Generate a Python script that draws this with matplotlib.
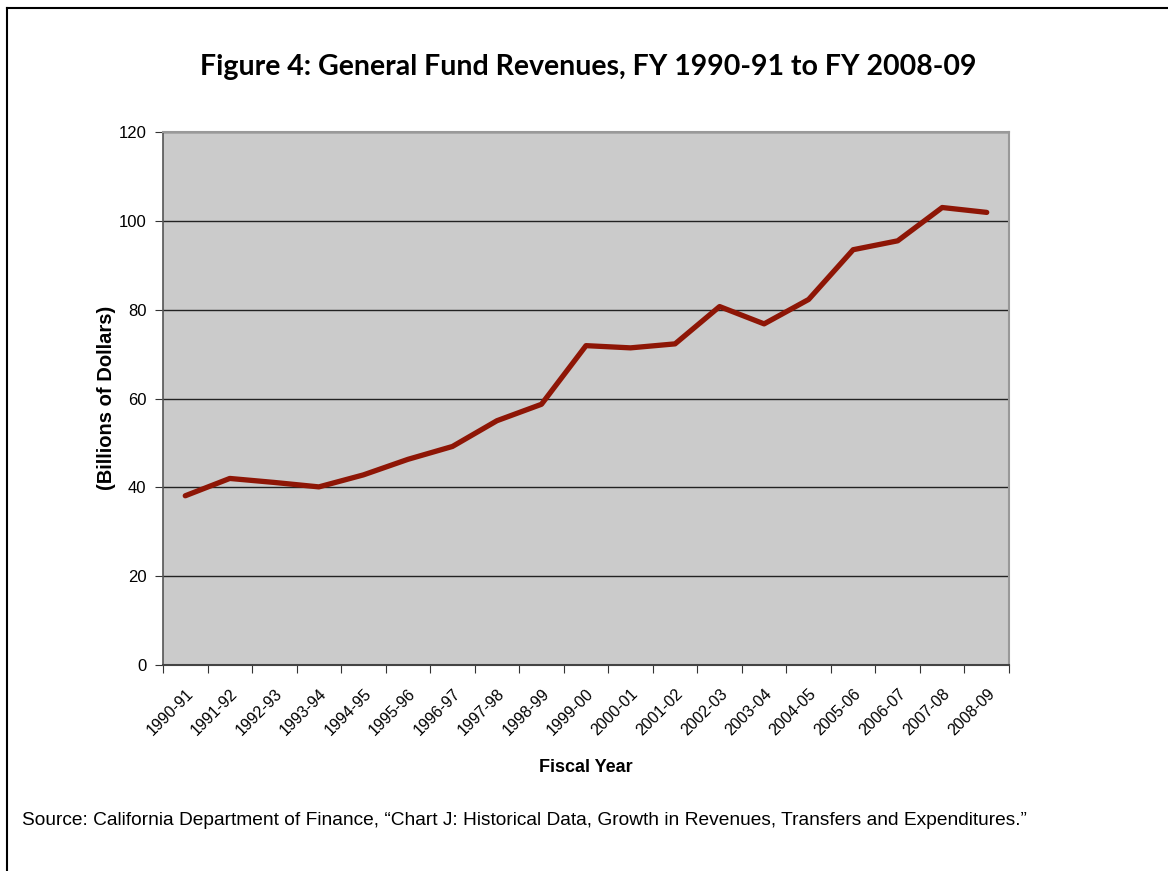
import matplotlib.pyplot as plt
import matplotlib.transforms as mtransforms
from matplotlib import font_manager
from matplotlib.lines import Line2D

years = ["1990-91", "1991-92", "1992-93", "1993-94", "1994-95", "1995-96",
         "1996-97", "1997-98", "1998-99", "1999-00", "2000-01", "2001-02",
         "2002-03", "2003-04", "2004-05", "2005-06", "2006-07", "2007-08",
         "2008-09"]
revenues = [38.1, 42.0, 41.1, 40.1, 42.8, 46.3, 49.2, 55.0, 58.7, 71.9,
            71.4, 72.3, 80.7, 76.8, 82.3, 93.5, 95.5, 103.0, 101.9]
y_ticks = [0, 20, 40, 60, 80, 100, 120]

names = {f.name for f in font_manager.fontManager.ttflist}
narrow = "Liberation Sans Narrow" if "Liberation Sans Narrow" in names else "Liberation Sans"

fig = plt.figure(figsize=(11.68, 8.71), dpi=100)
ax = fig.add_axes([163 / 1168, 1 - 665 / 871, 846 / 1168, 533 / 871])

x = list(range(len(years)))
ax.set_facecolor("#cbcbcb")
ax.plot(x, revenues, color="#8e1606", lw=3.8, solid_capstyle="round", zorder=3)

ax.set_xlim(-0.5, len(years) - 0.5)
ax.set_ylim(0, 120)
ax.set_yticks(y_ticks)
ax.set_yticklabels([str(v) for v in y_ticks], family="Liberation Sans", fontsize=12)
ax.yaxis.grid(True, color="#222222", lw=1)
ax.set_axisbelow(True)

# ticks between categories, labels at the centres
ax.set_xticks([i - 0.5 for i in range(len(years) + 1)])
ax.set_xticklabels([])
ax.set_xticks(x, minor=True)
ax.set_xticklabels(years, minor=True, rotation=45, ha="right", va="top",
                   rotation_mode="anchor", family="Liberation Sans", fontsize=11.5)
shift = mtransforms.ScaledTranslation(-0.2, 0, fig.dpi_scale_trans)
for lab in ax.get_xticklabels(minor=True):
    lab.set_transform(lab.get_transform() + shift)
ax.tick_params(axis="x", which="minor", length=0, pad=15)
ax.tick_params(axis="x", which="major", length=6, direction="out", color="#333333")
ax.tick_params(axis="y", length=6, direction="out", color="#333333", pad=6)

for s in ["top", "right"]:
    ax.spines[s].set_color("#999999")
    ax.spines[s].set_linewidth(1.5)
ax.spines["left"].set_color("#555555")
ax.spines["bottom"].set_color("#444444")
ax.spines["left"].set_linewidth(1.2)
ax.spines["bottom"].set_linewidth(1.5)

ax.set_xlabel("Fiscal Year", family=narrow, fontweight="bold", fontsize=13)
ax.set_ylabel("(Billions of Dollars)", family="Liberation Sans", fontweight="bold",
              fontsize=14.5)
ax.xaxis.set_label_coords(423 / 846, -(767 - 665) / 533)
ax.yaxis.set_label_coords(-(163 - 107) / 846, (665 - 398) / 533)
ax.xaxis.label.set_va("center")
ax.yaxis.label.set_va("center")

fig.text(588 / 1168, 1 - 67 / 871, "Figure 4: General Fund Revenues, FY 1990-91 to FY 2008-09",
         ha="center", va="center", family="Lato", fontweight="bold", fontsize=20.5)
fig.text(22 / 1168, 1 - 820 / 871,
         "Source: California Department of Finance, \u201cChart J: Historical Data, Growth in Revenues, Transfers and Expenditures.\u201d",
         ha="left", va="center", family=narrow, fontsize=13.8)

# frame on the top and left edges
fig.add_artist(Line2D([7 / 1168, 7 / 1168], [0, 1 - 8 / 871], transform=fig.transFigure,
                      color="black", lw=1.5))
fig.add_artist(Line2D([7 / 1168, 1], [1 - 8 / 871, 1 - 8 / 871], transform=fig.transFigure,
                      color="black", lw=1.5))

fig.savefig("out.png", dpi=100)
